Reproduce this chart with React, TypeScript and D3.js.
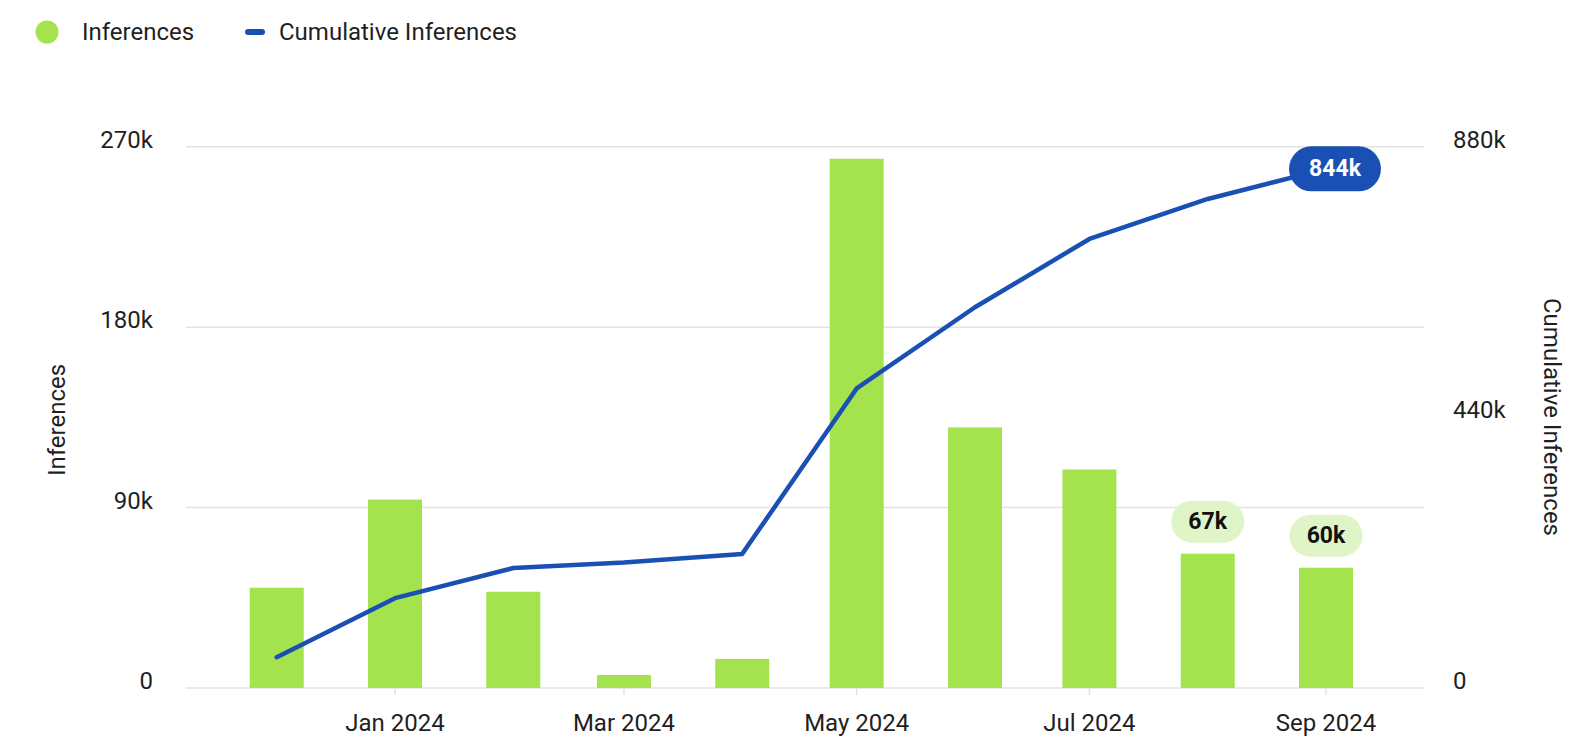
import React from "react";
import * as d3 from "d3";

const months: string[] = ["2023-12", "2024-01", "2024-02", "2024-03", "2024-04", "2024-05", "2024-06", "2024-07", "2024-08", "2024-09"];
const inferences: number[] = [50000, 94000, 48000, 6500, 14500, 264000, 130000, 109000, 67000, 60000];
const cumulative: number[] = [50000, 146000, 195000, 204000, 218000, 487000, 619000, 730000, 795000, 844000];
const leftTicks: number[] = [0, 90000, 180000, 270000];
const rightTicks: number[] = [0, 440000, 880000];
const xTickMonths: string[] = ["2024-01", "2024-03", "2024-05", "2024-07", "2024-09"];
const pillLabels: { month: string; text: string }[] = [
  { month: "2024-08", text: "67k" },
  { month: "2024-09", text: "60k" },
];
const cumLabel = { month: "2024-09", text: "844k" };

const W = 1575;
const H = 736;
const FONT = "Roboto, 'Noto Sans', sans-serif";
const GREEN = "#a4e24e";
const BLUE = "#1a50b4";
const PILL_GREEN = "#dff5c8";
const GRID = "#e3e3e3";
const TEXT = "#1f1f1f";
const FS = 24;

const parse = d3.timeParse("%Y-%m");
const fmtMonth = d3.timeFormat("%b %Y");
const fmtK = (v: number) => (v === 0 ? "0" : `${v / 1000}k`);

export default function App() {
  const plotLeft = 186;
  const plotRight = 1424;
  const yTop = 146.7;
  const yBottom = 688;

  const x = d3
    .scaleTime()
    .domain([parse("2024-01")!, parse("2024-09")!])
    .range([395, 1326]);
  const yL = d3.scaleLinear().domain([0, 270000]).range([yBottom, yTop]);
  const yR = d3.scaleLinear().domain([0, 880000]).range([yBottom, yTop]);

  const barW = 54;
  const dates = months.map((m) => parse(m)!);

  const line = d3
    .line<number>()
    .x((_, i) => x(dates[i]))
    .y((d) => yR(d));

  const cumIdx = months.indexOf(cumLabel.month);
  const cumX = x(dates[cumIdx]) + 9;
  const cumY = yR(cumulative[cumIdx]);

  return (
    <svg
      width={W}
      height={H}
      style={{ position: "absolute", left: 0, top: 0, display: "block", background: "#fff" }}
      fontFamily={FONT}
    >
      {/* Legend */}
      <circle cx={47} cy={32} r={11.5} fill={GREEN} />
      <text x={82} y={32} dominantBaseline="central" fontSize={FS} fill={TEXT}>
        Inferences
      </text>
      <line x1={248} x2={262} y1={32} y2={32} stroke={BLUE} strokeWidth={6} strokeLinecap="round" />
      <text x={279} y={32} dominantBaseline="central" fontSize={FS} fill={TEXT}>
        Cumulative Inferences
      </text>

      {/* Gridlines */}
      {leftTicks.map((t) => (
        <line key={t} x1={plotLeft} x2={plotRight} y1={yL(t)} y2={yL(t)} stroke={GRID} strokeWidth={1.5} />
      ))}

      {/* Left tick labels */}
      {leftTicks.map((t) => (
        <text key={t} x={153} y={yL(t) + 1} textAnchor="end" fontSize={FS} fill={TEXT}>
          {fmtK(t)}
        </text>
      ))}
      {/* Right tick labels */}
      {rightTicks.map((t) => (
        <text key={t} x={1453} y={yR(t) + 1} textAnchor="start" fontSize={FS} fill={TEXT}>
          {fmtK(t)}
        </text>
      ))}

      {/* Axis titles */}
      <text
        transform={`translate(57,420) rotate(-90)`}
        textAnchor="middle"
        dominantBaseline="central"
        fontSize={FS}
        fill={TEXT}
      >
        Inferences
      </text>
      <text
        transform={`translate(1552,417) rotate(90)`}
        textAnchor="middle"
        dominantBaseline="central"
        fontSize={FS}
        fill={TEXT}
      >
        Cumulative Inferences
      </text>

      {/* X ticks and labels */}
      {xTickMonths.map((m) => {
        const d = parse(m)!;
        const xx = x(d);
        return (
          <g key={m}>
            <line x1={xx} x2={xx} y1={yBottom} y2={yBottom + 7} stroke={GRID} strokeWidth={1.5} />
            <text x={xx} y={731} textAnchor="middle" fontSize={FS} fill={TEXT}>
              {fmtMonth(d)}
            </text>
          </g>
        );
      })}

      {/* Bars */}
      {inferences.map((v, i) => (
        <rect
          key={months[i]}
          x={x(dates[i]) - barW / 2}
          y={yL(v)}
          width={barW}
          height={yBottom - yL(v)}
          fill={GREEN}
        />
      ))}

      {/* Cumulative line */}
      <path d={line(cumulative) || ""} fill="none" stroke={BLUE} strokeWidth={4.5} strokeLinejoin="round" strokeLinecap="round" />

      {/* Bar value pills */}
      {pillLabels.map((p) => {
        const i = months.indexOf(p.month);
        const cx = x(dates[i]);
        const top = yL(inferences[i]);
        const ph = 42;
        const pw = 73;
        const cy = top - 11 - ph / 2;
        return (
          <g key={p.month}>
            <rect x={cx - pw / 2} y={cy - ph / 2} width={pw} height={ph} rx={ph / 2} fill={PILL_GREEN} />
            <text x={cx} y={cy} textAnchor="middle" dominantBaseline="central" fontSize={23} fontWeight="bold" fill="#111">
              {p.text}
            </text>
          </g>
        );
      })}

      {/* Cumulative pill */}
      <g>
        <rect x={cumX - 46} y={cumY - 22.5} width={92} height={45} rx={22.5} fill={BLUE} />
        <text x={cumX} y={cumY} textAnchor="middle" dominantBaseline="central" fontSize={23} fontWeight="bold" fill="#fff">
          {cumLabel.text}
        </text>
      </g>
    </svg>
  );
}
